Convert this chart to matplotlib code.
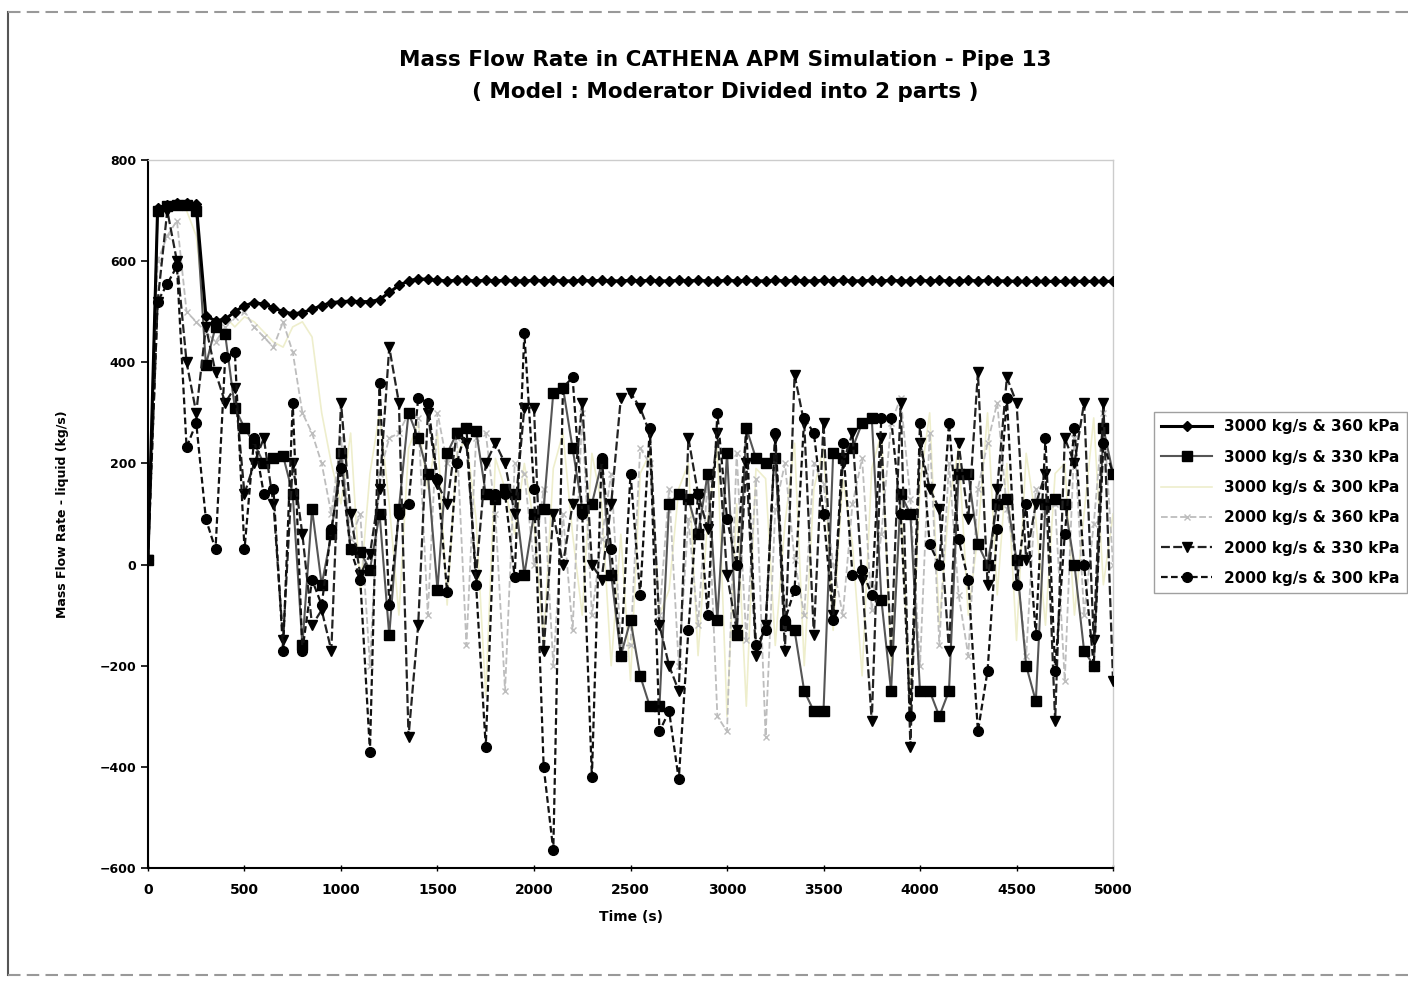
import matplotlib.pyplot as plt
from matplotlib.lines import Line2D

# time axis (s), one point every 50 s
time = list(range(0, 5001, 50))

labels = ["3000 kg/s & 360 kPa", "3000 kg/s & 330 kPa", "3000 kg/s & 300 kPa",
          "2000 kg/s & 360 kPa", "2000 kg/s & 330 kPa", "2000 kg/s & 300 kPa"]

s1 = [10, 705, 712, 715, 715, 713, 492, 482, 485, 500,
      512, 518, 515, 508, 500, 496, 498, 505, 512, 518,
      520, 521, 520, 520, 524, 538, 552, 561, 565, 564,
      562, 561, 562, 562, 561, 562, 561, 562, 561, 561,
      562, 561, 562, 561, 561, 562, 561, 562, 561, 561,
      562, 561, 562, 561, 561, 562, 561, 562, 561, 561,
      562, 561, 562, 561, 561, 562, 561, 562, 561, 561,
      562, 561, 562, 561, 561, 562, 561, 562, 561, 561,
      562, 561, 562, 561, 561, 562, 561, 562, 561, 561,
      560, 560, 560, 560, 560, 560, 560, 560, 560, 560,
      560]

s2 = [10, 700, 710, 712, 712, 700, 395, 470, 455, 310,
      270, 240, 200, 210, 215, 140, -160, 110, -40, 60,
      220, 30, 25, -10, 100, -140, 110, 300, 250, 180,
      -50, 220, 260, 270, 265, 140, 130, 150, 140, -20,
      100, 110, 340, 350, 230, 110, 120, 200, -20, -180,
      -110, -220, -280, -280, 120, 140, 130, 60, 180, -110,
      220, -140, 270, 210, 200, 210, -120, -130, -250, -290,
      -290, 220, 210, 230, 280, 290, -70, -250, 140, 100,
      -250, -250, -300, -250, 180, 180, 40, 0, 120, 130,
      10, -200, -270, 120, 130, 120, 0, -170, -200, 270,
      180]

s3 = [10, 690, 700, 705, 700, 650, 470, 480, 490, 470,
      490, 480, 460, 440, 430, 470, 480, 450, 300, 200,
      120, 260, -50, 180, 300, 120, -100, 230, 280, 150,
      260, -80, 220, 250, 90, -260, 210, 150, 60, 200,
      80, -150, 190, 260, 60, -100, 220, 120, -200, 60,
      -230, 180, 220, -100, -50, 150, 200, -180, 90, 230,
      -300, 120, -280, 190, 170, -160, 80, 240, -200, 150,
      230, -130, 170, 40, -220, 190, 260, -200, 120, -280,
      160, 300, -120, 120, 230, -100, 60, 300, -60, 200,
      -150, 220, 90, -120, 180, 200, -100, 100, 290, -40,
      100]

s4 = [10, 600, 650, 680, 500, 480, 460, 440, 470, 490,
      500, 470, 450, 430, 480, 420, 300, 260, 200, 100,
      250, 50, 100, -200, 180, 250, 260, 300, 290, -100,
      300, 200, 250, -160, 250, 260, 100, -250, 200, 180,
      0, 150, -200, 100, -130, 300, -100, 50, 180, -160,
      -160, 230, 200, -100, 150, -200, 90, -120, 170, -300,
      -330, 220, -150, 170, -340, 110, 200, 10, -100, 200,
      160, 0, -100, 120, 210, -90, 60, 280, 330, 130,
      -200, 260, -160, 200, -60, -180, 150, 240, 320, 110,
      0, -180, 150, 100, 120, -230, 250, -100, 80, 300,
      0]

s5 = [10, 520, 700, 600, 400, 300, 470, 380, 320, 350,
      140, 200, 250, 120, -150, 200, 60, -120, -90, -170,
      320, 100, -20, 20, 150, 430, 320, -340, -120, 300,
      160, 120, 260, 240, -20, 200, 240, 200, 100, 310,
      310, -170, 100, 0, 120, 320, 0, -30, 120, 330,
      340, 310, 260, -120, -200, -250, 250, 140, 70, 260,
      -20, -130, 200, -180, -120, 250, -170, 375, 280, -140,
      280, -100, 200, 260, -30, -310, 250, -170, 320, -360,
      240, 150, 110, -170, 240, 90, 380, -40, 150, 370,
      320, 10, 120, 180, -310, 250, 200, 320, -150, 320,
      -230]

s6 = [10, 520, 555, 590, 232, 280, 90, 30, 410, 420,
      30, 250, 140, 150, -170, 320, -170, -30, -80, 70,
      190, 30, -30, -370, 360, -80, 100, 120, 330, 320,
      170, -55, 200, 270, -40, -360, 140, 140, -25, 458,
      150, -400, -565, 350, 370, 100, -420, 210, 30, -180,
      180, -60, 270, -330, -290, -425, -130, 140, -100, 300,
      90, 0, 270, -160, -130, 260, -110, -50, 290, 260,
      100, -110, 240, -20, -10, -60, 290, 290, 100, -300,
      280, 40, 0, 280, 50, -30, -330, -210, 70, 330,
      -40, 120, -140, 250, -210, 60, 270, 0, -200, 240,
      180]

fig = plt.figure(figsize=(14.08, 9.81), dpi=100)
# outer chart border (left, top, bottom; right edge is cut off)
fig.add_artist(Line2D([0.006, 0.006], [0.006, 0.988], transform=fig.transFigure, color="#555555", lw=1.5))
fig.add_artist(Line2D([0.006, 1.0], [0.988, 0.988], transform=fig.transFigure, color="#999999", lw=1.5, ls=(0, (6, 3))))
fig.add_artist(Line2D([0.006, 1.0], [0.006, 0.006], transform=fig.transFigure, color="#999999", lw=1.5, ls=(0, (6, 3))))

ax = fig.add_axes([0.1051, 0.1152, 0.6854, 0.7217])

ax.plot(time, s3, color="#eeeecc", lw=1.2, marker="None", label=labels[2], zorder=1)
ax.plot(time, s4, color="#bdbdbd", lw=1.3, ls="--", marker="x", ms=4, label=labels[3], zorder=2)
ax.plot(time, s2, color="#555555", lw=1.5, marker="s", ms=6.5, mfc="black", mec="black", label=labels[1], zorder=3)
ax.plot(time, s5, color="#222222", lw=1.6, ls=(0, (4, 1.5)), marker="v", ms=6.5, mfc="black", mec="black", label=labels[4], zorder=4)
ax.plot(time, s6, color="#111111", lw=1.6, ls=(0, (3, 1.5)), marker="o", ms=7, mfc="black", mec="black", label=labels[5], zorder=5)
ax.plot(time, s1, color="black", lw=2.2, marker="D", ms=5, label=labels[0], zorder=6)

ax.set_xlim(0, 5000)
ax.set_ylim(-600, 800)
ax.set_xticks(range(0, 5001, 500))
ax.set_yticks(range(-600, 801, 200))
ax.tick_params(axis="y", direction="out", length=5, width=1.2, labelsize=9)
ax.tick_params(axis="x", direction="inout", length=5, width=1, labelsize=10, pad=8)
for lab in ax.get_xticklabels() + ax.get_yticklabels():
    lab.set_fontweight("bold")
for side in ["top", "right"]:
    ax.spines[side].set_color("#cccccc")
    ax.spines[side].set_linewidth(1)
for side in ["left", "bottom"]:
    ax.spines[side].set_linewidth(1.5)

ax.set_xlabel("Time (s)", fontsize=10, fontweight="bold", labelpad=10)
ax.set_ylabel("Mass Flow Rate - liquid (kg/s)", fontsize=9, fontweight="bold", labelpad=22)

fig.text(0.515, 0.939, "Mass Flow Rate in CATHENA APM Simulation - Pipe 13",
         ha="center", va="center", fontsize=15.5, fontweight="bold")
fig.text(0.515, 0.906, "( Model : Moderator Divided into 2 parts )",
         ha="center", va="center", fontsize=15.5, fontweight="bold")

handles, labs = ax.get_legend_handles_labels()
order = [5, 2, 0, 1, 3, 4]
leg = fig.legend([handles[i] for i in order], [labs[i] for i in order],
                 loc="upper left", bbox_to_anchor=(0.814, 0.588), fontsize=11,
                 frameon=True, fancybox=False, edgecolor="#888888",
                 labelspacing=1.0, handlelength=3.3, borderpad=0.5)
leg.get_frame().set_linewidth(1)
for t in leg.get_texts():
    t.set_fontweight("bold")

fig.savefig("out.png", dpi=100)
